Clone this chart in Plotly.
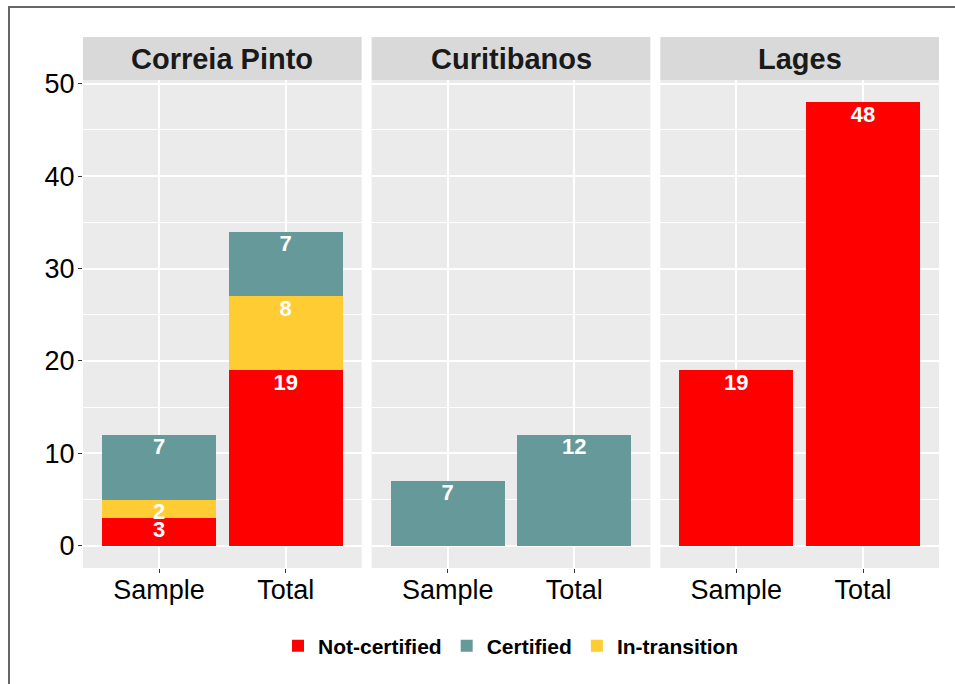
import plotly.graph_objects as go
from plotly.subplots import make_subplots

facets = ["Correia Pinto", "Curitibanos", "Lages"]
groups = ["Sample", "Total"]
not_certified = [[3, 19], [0, 0], [19, 48]]
in_transition = [[2, 8], [0, 0], [0, 0]]
certified = [[7, 7], [7, 12], [0, 0]]

# stacking order bottom -> top; legend rank
series = [
    ("Not-certified", not_certified, "#FF0000", 1),
    ("In-transition", in_transition, "#FFCC33", 3),
    ("Certified", certified, "#669999", 2),
]

FONT = "Liberation Sans, Arial, sans-serif"
W, H = 955, 684
ML, MR, MT, MB = 83, 16, 80, 116
PW = W - ML - MR
PH = H - MT - MB

fig = make_subplots(rows=1, cols=3, shared_yaxes=True, horizontal_spacing=10 / PW)

shown = set()
for i, facet in enumerate(facets):
    base = [0] * len(groups)
    for name, vals, color, rank in series:
        xs = [g for g, v in zip(groups, vals[i]) if v > 0]
        ys = [v for v in vals[i] if v > 0]
        tops = [b + v for b, v in zip(base, vals[i]) if v > 0]
        base = [b + v for b, v in zip(base, vals[i])]
        if not ys:
            continue
        fig.add_trace(
            go.Bar(
                x=xs, y=ys, name=name, marker=dict(color=color, line=dict(width=0)),
                legendgroup=name, showlegend=name not in shown, legendrank=rank,
                width=0.9, hoverinfo="skip",
            ),
            row=1, col=i + 1,
        )
        fig.add_trace(
            go.Scatter(
                x=xs, y=tops, mode="markers+text", text=[str(v) for v in ys],
                textposition="bottom center",
                marker=dict(size=3, opacity=0),
                textfont=dict(color="white", size=22, family=FONT, weight="bold"),
                showlegend=False, hoverinfo="skip", cliponaxis=False,
            ),
            row=1, col=i + 1,
        )
        shown.add(name)

fig.update_layout(
    width=W, height=H, barmode="stack",
    margin=dict(l=ML, r=MR, t=MT, b=MB),
    paper_bgcolor="white", plot_bgcolor="#EBEBEB",
    font=dict(family=FONT, color="black"),
    legend=dict(orientation="h", x=0.5, xanchor="center", y=-(646 - 568) / PH, yanchor="middle",
                font=dict(size=21, family=FONT, weight="bold", color="black"),
                itemwidth=30, traceorder="normal"),
)

fig.update_xaxes(type="category", categoryorder="array", categoryarray=groups,
                 range=[-0.6, 1.6], showgrid=True, gridcolor="white", gridwidth=2,
                 ticks="outside", ticklen=4, tickcolor="#333333", tickwidth=1,
                 ticklabelstandoff=-6,
                 tickfont=dict(size=27, color="black", family=FONT), showline=False,
                 zeroline=False)
fig.update_yaxes(range=[-2.4, 50.4], dtick=10, tick0=0, showgrid=True, gridcolor="white",
                 gridwidth=2, zeroline=True, zerolinecolor="white", zerolinewidth=2,
                 minor=dict(dtick=5, showgrid=True, gridcolor="white", gridwidth=1),
                 showline=False, tickfont=dict(size=27, color="black", family=FONT))
fig.update_yaxes(ticks="outside", ticklen=4, tickcolor="#333333", tickwidth=1,
                 ticklabelstandoff=-2, row=1, col=1)

strip_h = 43 / PH
for i, facet in enumerate(facets):
    xr = "x domain" if i == 0 else f"x{i + 1} domain"
    fig.add_shape(type="rect", xref=xr, yref="paper", x0=0, x1=1, y0=1, y1=1 + strip_h,
                  fillcolor="#D9D9D9", line=dict(width=0), layer="below")
    fig.add_annotation(text=facet, xref=xr, yref="paper", x=0.5, y=1 + strip_h / 2,
                       showarrow=False, yanchor="middle", xanchor="center",
                       font=dict(size=29, family=FONT, weight="bold", color="#1A1A1A"))

# outer border (image is cropped on the right and bottom)
bx0 = (9 - ML) / PW
by1 = 1 + (MT - 7) / PH
fig.add_shape(type="path", xref="paper", yref="paper",
              path=f"M {bx0},-0.5 L {bx0},{by1} L 1.2,{by1}",
              line=dict(color="#666666", width=2))

fig.write_html(
    "out.html",
    config={"displayModeBar": False},
    post_script="document.body.style.margin='0px';document.body.style.overflow='hidden';",
)
